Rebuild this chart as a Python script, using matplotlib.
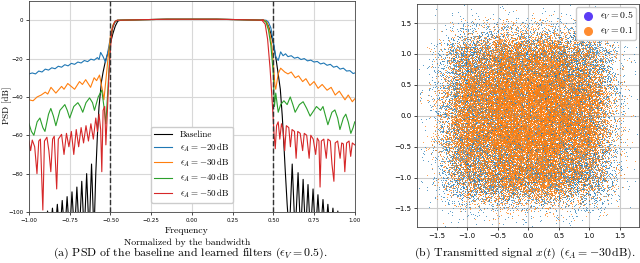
import numpy as np
import matplotlib
matplotlib.use("Agg")
import matplotlib.pyplot as plt

plt.rcParams.update({
    "font.family": "cmr10", "mathtext.fontset": "cm",
    "axes.unicode_minus": False, "axes.formatter.use_mathtext": True,
})

# ---- (a) PSD curves as (frequency, dB) points -----------------------------
passband = [(-0.44, 0.0), (-0.3, 0.3), (-0.15, 0.5), (0.0, 0.5), (0.15, 0.5), (0.3, 0.3), (0.44, 0.0)]

baseline_left = [(-1.0, -115), (-0.9, -108), (-0.886, -99.5), (-0.871, -112), (-0.856, -98), (-0.841, -112),
                 (-0.826, -96), (-0.811, -112), (-0.796, -94), (-0.781, -112), (-0.766, -92), (-0.751, -112),
                 (-0.736, -89.5), (-0.721, -112), (-0.706, -87), (-0.691, -112), (-0.676, -84), (-0.661, -112),
                 (-0.646, -80), (-0.631, -112), (-0.616, -75), (-0.601, -112), (-0.59, -80), (-0.58, -60),
                 (-0.57, -45), (-0.555, -32), (-0.545, -27), (-0.53, -21), (-0.515, -17), (-0.5, -12),
                 (-0.485, -7), (-0.47, -3), (-0.455, -0.5)]
baseline_right = [(0.455, -0.5), (0.47, -3), (0.485, -7), (0.5, -12), (0.518, -21), (0.53, -28), (0.543, -36),
                  (0.555, -50), (0.565, -65), (0.573, -78), (0.585, -96), (0.598, -112), (0.616, -75),
                  (0.634, -112), (0.652, -79.5), (0.668, -112), (0.683, -83), (0.698, -112), (0.713, -85.7),
                  (0.728, -112), (0.744, -88), (0.759, -112), (0.774, -91), (0.789, -112), (0.805, -93.5),
                  (0.82, -112), (0.835, -96), (0.85, -112), (0.866, -98), (0.881, -112), (0.896, -99.5),
                  (0.911, -112), (1.0, -115)]

eps20_left = [(-1.0, -28.0), (-0.98, -27.5), (-0.96, -28), (-0.94, -26.5), (-0.92, -27), (-0.9, -25.5),
              (-0.88, -26), (-0.86, -24.8), (-0.84, -25.3), (-0.82, -24), (-0.8, -24.5), (-0.78, -23.2),
              (-0.76, -23.8), (-0.74, -22.5), (-0.72, -23), (-0.7, -21.8), (-0.68, -22.3), (-0.66, -21),
              (-0.64, -21.6), (-0.62, -20.3), (-0.6, -20.8), (-0.58, -19.5), (-0.57, -20.5), (-0.56, -16.8),
              (-0.545, -19), (-0.53, -22), (-0.515, -16), (-0.5, -9), (-0.485, -3.5), (-0.47, -0.8), (-0.455, 0)]
eps20_right = [(0.455, 0), (0.47, -1), (0.485, -4), (0.5, -11), (0.515, -19), (0.53, -21), (0.545, -16.5),
               (0.56, -18.5), (0.575, -17.5), (0.59, -19), (0.61, -18.5), (0.63, -19.8), (0.65, -19.3),
               (0.67, -20.5), (0.69, -20), (0.71, -21.2), (0.73, -20.8), (0.75, -21.8), (0.77, -21.5),
               (0.79, -22.8), (0.81, -22.3), (0.83, -23.5), (0.85, -23), (0.87, -24.5), (0.89, -24),
               (0.91, -25.5), (0.93, -25), (0.95, -26.5), (0.97, -26.3), (0.99, -27.8), (1.0, -27.5)]

eps30_left = [(-1.0, -41.5), (-0.975, -42), (-0.95, -40), (-0.925, -39), (-0.9, -37.5), (-0.885, -38.5),
              (-0.865, -35), (-0.835, -38), (-0.8, -34.5), (-0.785, -36), (-0.762, -33), (-0.72, -36),
              (-0.69, -32), (-0.672, -33.5), (-0.652, -31), (-0.622, -35), (-0.6, -30), (-0.585, -31.5),
              (-0.567, -28.6), (-0.548, -37), (-0.54, -41.5), (-0.53, -33), (-0.515, -20), (-0.5, -8),
              (-0.485, -2.5), (-0.47, -0.5), (-0.455, 0)]
eps30_right = [(0.445, 0), (0.46, -1), (0.475, -5), (0.49, -13), (0.5, -22), (0.51, -34), (0.515, -36),
               (0.53, -28), (0.545, -25), (0.57, -27), (0.59, -28), (0.61, -27), (0.635, -30), (0.655, -29),
               (0.68, -32), (0.7, -30.5), (0.725, -34), (0.75, -32), (0.775, -35.5), (0.8, -33.5),
               (0.83, -36.5), (0.855, -35), (0.88, -39), (0.905, -37), (0.94, -41.5), (0.96, -39),
               (0.985, -42.5), (1.0, -41)]

eps40_left = [(-1.0, -54), (-0.985, -58), (-0.97, -60), (-0.95, -53), (-0.933, -51), (-0.915, -56),
              (-0.902, -58), (-0.88, -49), (-0.866, -46), (-0.85, -50), (-0.835, -55), (-0.81, -47),
              (-0.78, -44), (-0.765, -47), (-0.75, -51), (-0.725, -45), (-0.7, -43), (-0.685, -45),
              (-0.67, -48), (-0.65, -43), (-0.628, -40.5), (-0.61, -43), (-0.598, -47), (-0.575, -40),
              (-0.553, -36.5), (-0.54, -45), (-0.528, -54), (-0.515, -35), (-0.5, -12), (-0.485, -3),
              (-0.47, -0.5), (-0.455, 0)]
eps40_right = [(0.44, 0), (0.455, -1), (0.47, -5), (0.485, -13), (0.5, -28), (0.507, -45), (0.515, -38),
               (0.53, -48), (0.545, -44), (0.565, -42), (0.585, -44), (0.604, -40), (0.62, -44),
               (0.634, -48), (0.66, -44), (0.683, -42.5), (0.705, -46), (0.726, -50), (0.765, -45),
               (0.79, -47), (0.805, -45), (0.835, -54.5), (0.86, -48), (0.878, -46.8), (0.895, -51),
               (0.909, -57), (0.93, -51), (0.945, -49), (0.96, -53), (0.976, -59), (0.99, -56), (1.0, -53)]

eps50_left = [(-1.0, -63), (-0.99, -68), (-0.98, -62.5), (-0.965, -66), (-0.951, -80), (-0.94, -63),
              (-0.93, -62), (-0.915, -99), (-0.905, -63), (-0.89, -61), (-0.878, -68), (-0.866, -79),
              (-0.855, -62), (-0.845, -60.5), (-0.83, -88), (-0.82, -62), (-0.8, -59.5), (-0.785, -70),
              (-0.77, -59), (-0.755, -66), (-0.74, -58), (-0.725, -70), (-0.71, -57), (-0.695, -66),
              (-0.68, -56), (-0.665, -64), (-0.65, -55), (-0.635, -63), (-0.62, -54), (-0.605, -62),
              (-0.59, -51), (-0.58, -58), (-0.57, -49), (-0.56, -57), (-0.553, -79), (-0.545, -47),
              (-0.535, -45), (-0.528, -65), (-0.52, -50), (-0.51, -30), (-0.5, -15), (-0.49, -5),
              (-0.475, -1), (-0.46, 0)]
eps50_right = [(0.43, 0), (0.45, -2), (0.465, -10), (0.48, -25), (0.495, -45), (0.505, -60), (0.512, -67),
               (0.52, -55), (0.53, -53), (0.54, -62), (0.55, -54), (0.56, -57), (0.57, -68), (0.58, -55),
               (0.595, -56), (0.605, -66), (0.615, -57), (0.63, -58), (0.64, -72), (0.65, -58),
               (0.665, -59), (0.68, -68), (0.69, -59), (0.705, -60), (0.72, -72), (0.73, -60),
               (0.745, -62), (0.76, -70), (0.77, -61.5), (0.78, -63), (0.787, -87), (0.795, -63),
               (0.81, -62), (0.825, -72), (0.835, -62), (0.85, -63), (0.86, -75), (0.872, -84),
               (0.88, -64), (0.895, -63), (0.91, -72), (0.92, -64), (0.93, -64.5), (0.939, -79),
               (0.95, -64), (0.965, -63), (0.975, -71), (0.985, -64), (1.0, -65)]

psd_labels = ["Baseline", r"$\epsilon_A = -20\,\mathrm{dB}$", r"$\epsilon_A = -30\,\mathrm{dB}$",
              r"$\epsilon_A = -40\,\mathrm{dB}$", r"$\epsilon_A = -50\,\mathrm{dB}$"]
psd_colors = ["black", "#1f77b4", "#ff7f0e", "#2ca02c", "#d62728"]
psd_curves = [(baseline_left, baseline_right), (eps20_left, eps20_right), (eps30_left, eps30_right),
              (eps40_left, eps40_right), (eps50_left, eps50_right)]

# ---- (b) constellation: cluster centres (16-QAM grid)
qam_levels = [-0.95, -0.32, 0.3, 0.9]
cloud_labels = [r"$\epsilon_V = 0.5$", r"$\epsilon_V = 0.1$"]
cloud_spread = [0.28, 0.25]          # approximate cluster spread of each cloud
# points per cluster for inner / edge / corner points (the cloud is too dense to read one by one)
cloud_counts = [(1300, 1300, 1300), (2800, 1900, 800)]
cloud_colors = ["#1f77b4", "#ff7f0e"]
legend_colors = ["#5b3cf5", "#ff8c30"]

fig = plt.figure(figsize=(6.4, 2.63), dpi=100)

# ---------------- (a) PSD ----------------
ax = fig.add_axes([0.0453, 0.194, 0.509, 0.802])
for (left, right), col, lab in zip(psd_curves, psd_colors, psd_labels):
    pts = left + passband + right
    f = np.array([p[0] for p in pts])
    v = np.array([p[1] for p in pts])
    ax.plot(f, v, color=col, lw=0.8, label=lab)
ax.axvline(-0.5, color="#333333", ls="--", lw=1.0)
ax.axvline(0.5, color="#333333", ls="--", lw=1.0)
ax.set_xlim(-1, 1)
ax.set_ylim(-100, 10)
xt = np.arange(-1, 1.01, 0.25)
ax.set_xticks(xt)
ax.set_xticklabels([f"{t:.2f}".replace("-", "\u2212") for t in xt])
ax.set_yticks([0, -20, -40, -60, -80, -100])
ax.set_yticklabels(["0", "\u221220", "\u221240", "\u221260", "\u221280", "\u2212100"])
ax.tick_params(labelsize=4, length=2, width=0.5, pad=2, labelfontfamily="DejaVu Sans")
ax.grid(True, color="#d8d8d8", lw=0.8)
ax.set_axisbelow(True)
for s in ax.spines.values():
    s.set_linewidth(0.6)
    s.set_color("#444444")
fig.text(0.012, 0.6, "PSD [dB]", rotation=90, fontsize=6.5, ha="center", va="center")
fig.text(0.292, 0.122, "Frequency", fontsize=7, ha="center", va="center")
fig.text(0.292, 0.076, "Normalized by the bandwidth", fontsize=7, ha="center", va="center")
ax.legend(loc="lower left", bbox_to_anchor=(0.36, 0.02), fontsize=6.5, handlelength=2.0,
          borderpad=0.4, labelspacing=0.3, framealpha=1.0, edgecolor="#cccccc", fancybox=True)

# ---------------- (b) scatter ----------------
bx = fig.add_axes([0.652, 0.137, 0.347, 0.848])
rng = np.random.default_rng(3)
for spread, counts, col in zip(cloud_spread, cloud_counts, cloud_colors):
    blocks = []
    for i, a in enumerate(qam_levels):
        for j, b in enumerate(qam_levels):
            ring = (i in (0, 3)) + (j in (0, 3))     # 0 inner, 1 edge, 2 corner
            n = counts[ring]
            blocks.append(np.array([a, b]) + rng.normal(0, spread, (n, 2)))
    pts = np.vstack(blocks)
    bx.scatter(pts[:, 0], pts[:, 1], s=0.4, color=col, alpha=0.75, lw=0, rasterized=True)
for col, lab in zip(legend_colors, cloud_labels):
    bx.scatter([], [], s=30, color=col, label=lab)
bx.set_xlim(-1.82, 1.82)
bx.set_ylim(-1.8, 1.81)
ticks = [-1.5, -1.0, -0.5, 0.0, 0.5, 1.0, 1.5]
bx.set_xticks(ticks)
bx.set_yticks(ticks)
tl = [f"{t:.1f}".replace("-", "\u2212") for t in ticks]
bx.set_xticklabels(tl)
bx.set_yticklabels(tl)
bx.tick_params(labelsize=5, length=2, width=0.5, pad=2, labelfontfamily="DejaVu Sans")
bx.grid(True, color="#cccccc", lw=0.8)
bx.set_axisbelow(True)
for s in bx.spines.values():
    s.set_linewidth(0.6)
    s.set_color("#444444")
bx.legend(loc="upper right", fontsize=7, handletextpad=0.2, borderpad=0.3, labelspacing=0.3,
          framealpha=1.0, edgecolor="#cccccc", borderaxespad=0.3)

fig.text(0.297, 0.036, r"(a) PSD of the baseline and learned filters ($\epsilon_V = 0.5$).",
         ha="center", va="center", fontsize=8.5)
fig.text(0.82, 0.036, r"(b) Transmitted signal $x(t)$ ($\epsilon_A = -30\,\mathrm{dB}$).",
         ha="center", va="center", fontsize=8.5)

fig.savefig("out.png", dpi=100)
